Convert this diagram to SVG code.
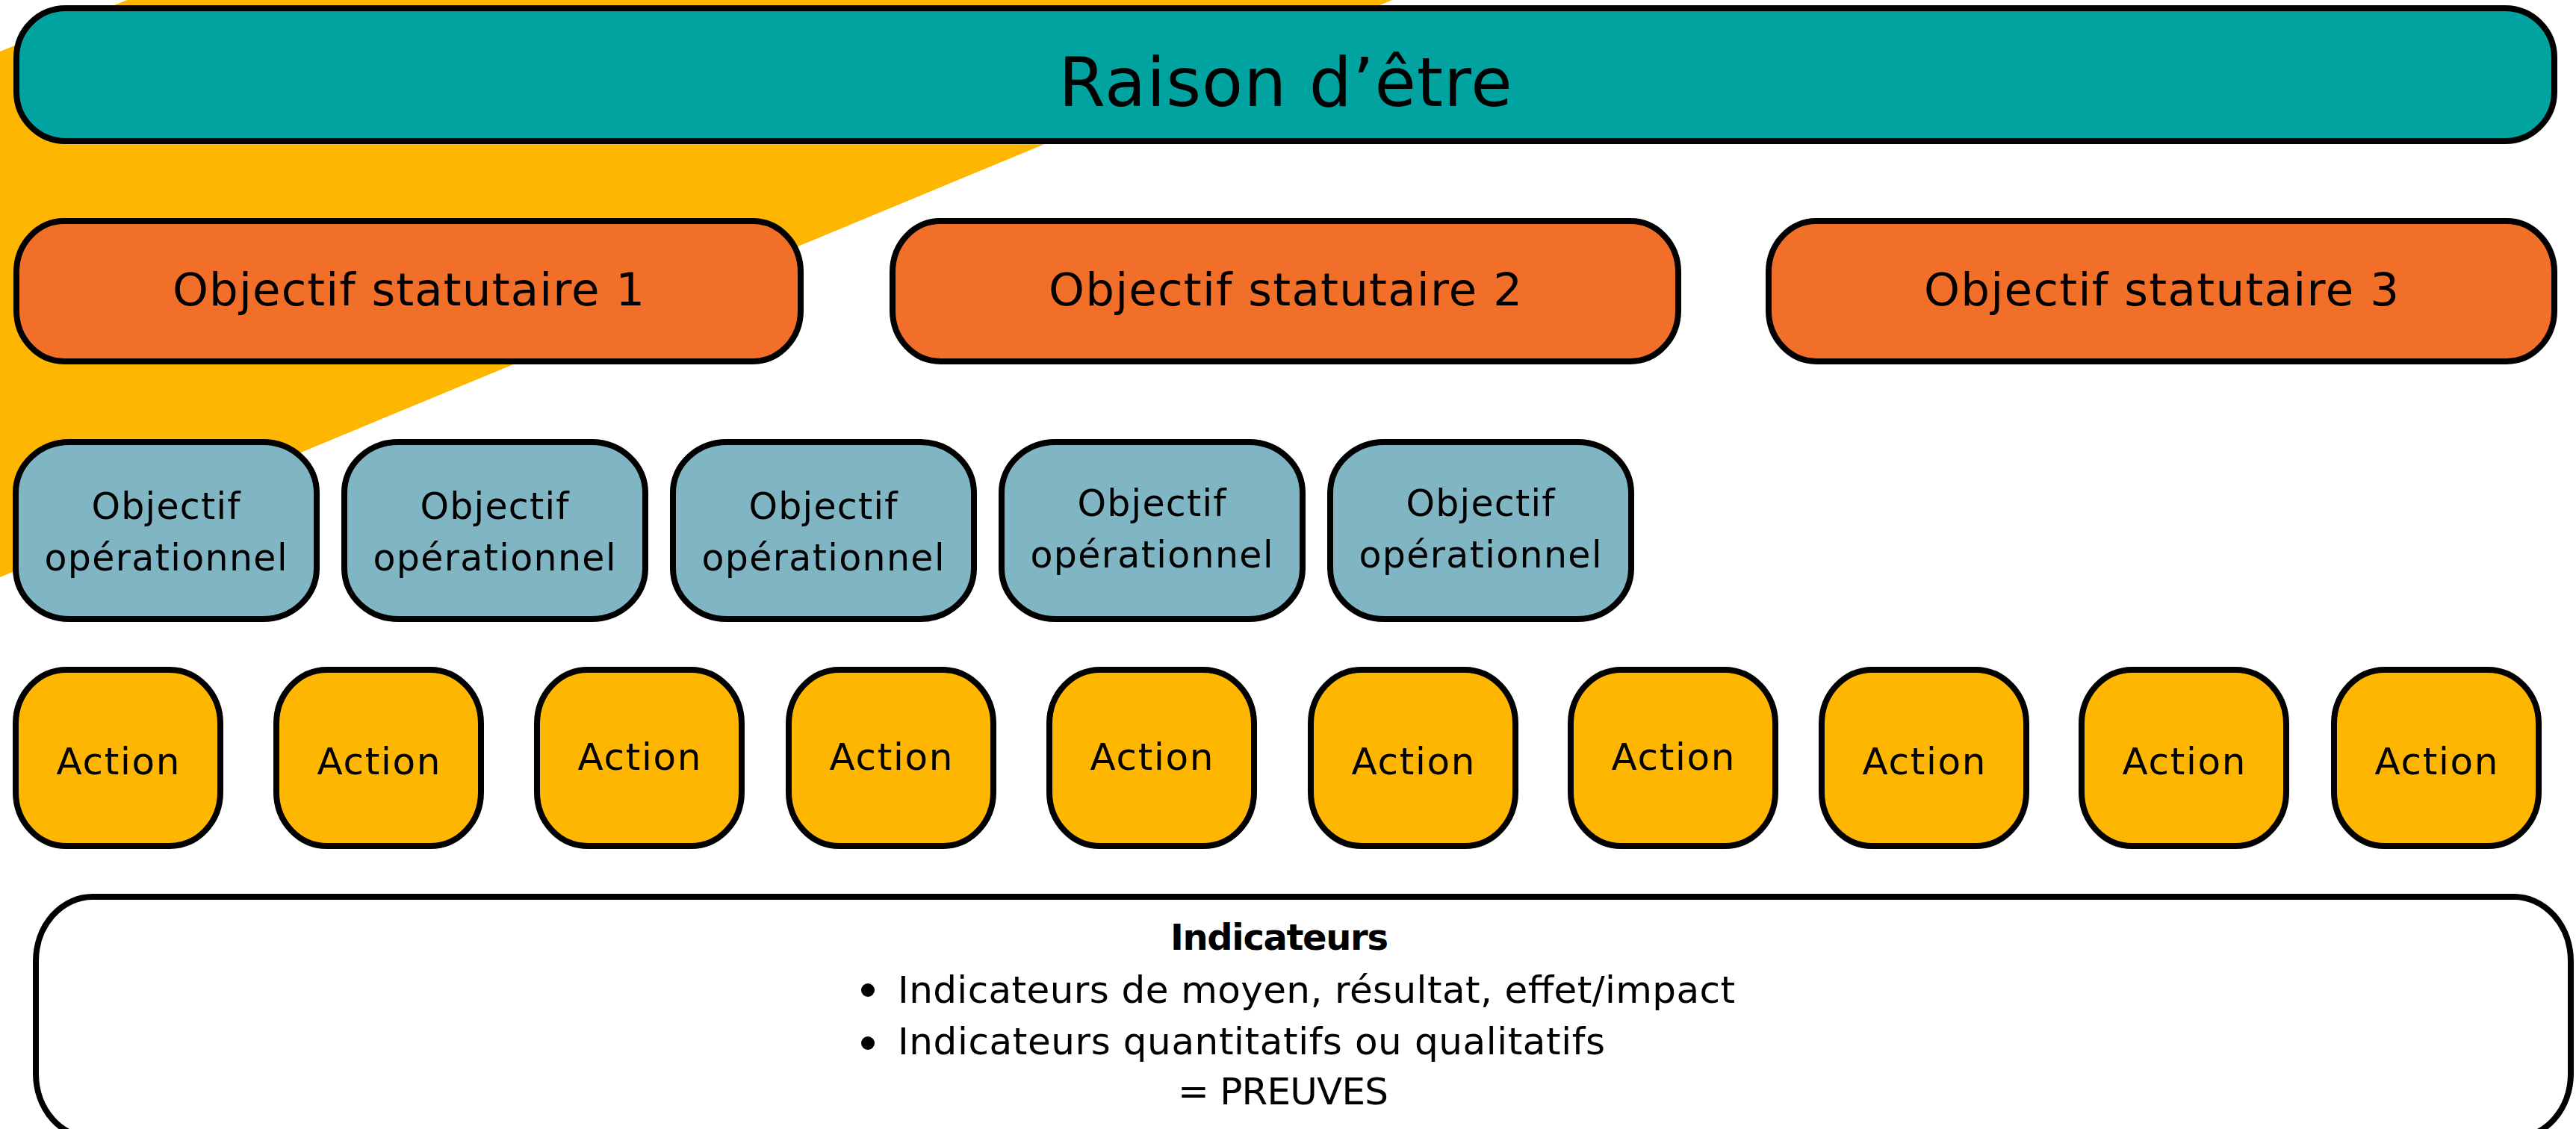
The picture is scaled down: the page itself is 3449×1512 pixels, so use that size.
<svg xmlns="http://www.w3.org/2000/svg" width="3449" height="1512" viewBox="0 0 3449 1512">
<style>
  text { font-family: "DejaVu Sans", "Liberation Sans", sans-serif; fill: #000; text-anchor: middle; }
  .box { stroke: #000; stroke-width: 8; }
  .teal { fill: #01a3a0; }
  .orange { fill: #f16f29; }
  .blue { fill: #80b5c4; }
  .yellow { fill: #ffb601; }
  .white { fill: #ffffff; }
  .t-title { font-size: 90px; }
  .t-stat { font-size: 61px; }
  .t-op { font-size: 49px; }
  .t-act { font-size: 50px; }
  .t-ind { font-size: 50px; }
  .t-indb { font-size: 48px; font-weight: bold; }
</style>
<rect x="0" y="0" width="3449" height="1512" fill="#ffffff"/>
<polygon id="background-band" points="170,0 1864,0 0,773 0,69" fill="#ffb601"/>

<g id="raison">
  <rect class="box teal" x="22" y="11" width="3398" height="178" rx="66" ry="66"/>
  <text class="t-title" x="1721" y="142" textLength="607">Raison d’être</text>
</g>

<g id="stat1">
  <rect class="box orange" x="22" y="296" width="1050" height="188" rx="64" ry="68"/>
  <text class="t-stat" x="547" y="409" textLength="632">Objectif statutaire 1</text>
</g>
<g id="stat2">
  <rect class="box orange" x="1195" y="296" width="1052" height="188" rx="64" ry="68"/>
  <text class="t-stat" x="1721" y="409" textLength="634">Objectif statutaire 2</text>
</g>
<g id="stat3">
  <rect class="box orange" x="2368" y="296" width="1052" height="188" rx="64" ry="68"/>
  <text class="t-stat" x="2894" y="409" textLength="636">Objectif statutaire 3</text>
</g>

<g id="op1">
  <rect class="box blue" x="21" y="592" width="403" height="237" rx="72" ry="68"/>
  <text class="t-op" x="222" y="695" textLength="199">Objectif</text>
  <text class="t-op" x="222" y="764" textLength="325">opérationnel</text>
</g>
<g id="op2">
  <rect class="box blue" x="461" y="592" width="403" height="237" rx="72" ry="68"/>
  <text class="t-op" x="662" y="695" textLength="199">Objectif</text>
  <text class="t-op" x="662" y="764" textLength="325">opérationnel</text>
</g>
<g id="op3">
  <rect class="box blue" x="901" y="592" width="403" height="237" rx="72" ry="68"/>
  <text class="t-op" x="1102" y="695" textLength="199">Objectif</text>
  <text class="t-op" x="1102" y="764" textLength="325">opérationnel</text>
</g>
<g id="op4">
  <rect class="box blue" x="1341" y="592" width="403" height="237" rx="72" ry="68"/>
  <text class="t-op" x="1542" y="691" textLength="199">Objectif</text>
  <text class="t-op" x="1542" y="760" textLength="325">opérationnel</text>
</g>
<g id="op5">
  <rect class="box blue" x="1781" y="592" width="403" height="237" rx="72" ry="68"/>
  <text class="t-op" x="1982" y="691" textLength="199">Objectif</text>
  <text class="t-op" x="1982" y="760" textLength="325">opérationnel</text>
</g>

<g id="action1">
  <rect class="box yellow" x="21" y="897" width="274" height="236" rx="68" ry="72"/>
  <text class="t-act" x="158" y="1037" textLength="165">Action</text>
</g>
<g id="action2">
  <rect class="box yellow" x="370" y="897" width="274" height="236" rx="68" ry="72"/>
  <text class="t-act" x="507" y="1037" textLength="165">Action</text>
</g>
<g id="action3">
  <rect class="box yellow" x="719" y="897" width="274" height="236" rx="68" ry="72"/>
  <text class="t-act" x="856" y="1031" textLength="165">Action</text>
</g>
<g id="action4">
  <rect class="box yellow" x="1056" y="897" width="274" height="236" rx="68" ry="72"/>
  <text class="t-act" x="1193" y="1031" textLength="165">Action</text>
</g>
<g id="action5">
  <rect class="box yellow" x="1405" y="897" width="274" height="236" rx="68" ry="72"/>
  <text class="t-act" x="1542" y="1031" textLength="165">Action</text>
</g>
<g id="action6">
  <rect class="box yellow" x="1755" y="897" width="274" height="236" rx="68" ry="72"/>
  <text class="t-act" x="1892" y="1037" textLength="165">Action</text>
</g>
<g id="action7">
  <rect class="box yellow" x="2103" y="897" width="274" height="236" rx="68" ry="72"/>
  <text class="t-act" x="2240" y="1031" textLength="165">Action</text>
</g>
<g id="action8">
  <rect class="box yellow" x="2439" y="897" width="274" height="236" rx="68" ry="72"/>
  <text class="t-act" x="2576" y="1037" textLength="165">Action</text>
</g>
<g id="action9">
  <rect class="box yellow" x="2787" y="897" width="274" height="236" rx="68" ry="72"/>
  <text class="t-act" x="2924" y="1037" textLength="165">Action</text>
</g>
<g id="action10">
  <rect class="box yellow" x="3125" y="897" width="274" height="236" rx="68" ry="72"/>
  <text class="t-act" x="3262" y="1037" textLength="165">Action</text>
</g>

<g id="indicateurs">
  <rect class="box white" x="48" y="1201" width="3394" height="323" rx="76" ry="86"/>
  <text class="t-indb" x="1713" y="1272" textLength="292">Indicateurs</text>
  <circle cx="1162" cy="1326" r="9" fill="#000"/>
  <text class="t-ind" x="1202" y="1343" style="text-anchor:start" textLength="1121">Indicateurs de moyen, résultat, effet/impact</text>
  <circle cx="1162" cy="1397" r="9" fill="#000"/>
  <text class="t-ind" x="1202" y="1412" style="text-anchor:start" textLength="947">Indicateurs quantitatifs ou qualitatifs</text>
  <text class="t-ind" x="1718" y="1479" textLength="282">= PREUVES</text>
</g>

<g id="connectors"/>
</svg>
